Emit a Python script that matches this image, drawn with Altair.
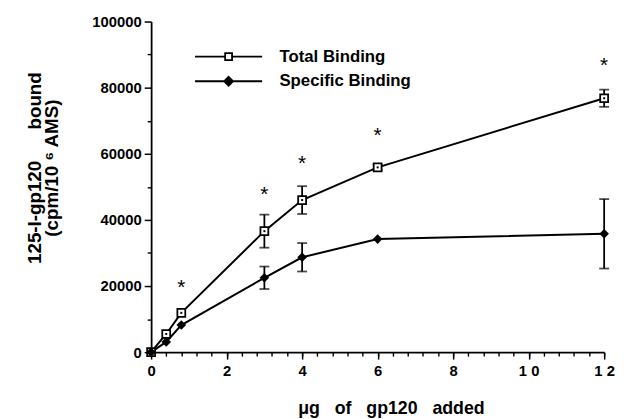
import altair as alt
import pandas as pd

# ---- data ----
dose = [0, 0.4, 0.8, 3, 4, 6, 12]
total = [0, 5500, 11900, 36600, 46000, 55900, 76800]
total_err = [0, 0, 0, 5000, 4200, 800, 2600]
specific = [0, 3100, 8200, 22500, 28700, 34200, 35800]
specific_err = [0, 0, 0, 3400, 4300, 0, 10500]
star_dose = [0.8, 3, 4, 6, 12]
star_y = [19500, 47500, 57000, 65500, 86500]
series_names = ["Total Binding", "Specific Binding"]
x_major = [0, 2, 4, 6, 8, 10, 12]
x_minor = [round(i * 0.4, 2) for i in range(31)]
y_major = [0, 20000, 40000, 60000, 80000, 100000]
y_minor = [10000, 30000, 50000, 70000, 90000]

rows = []
for d, v, e in zip(dose, total, total_err):
    rows.append({"series": series_names[0], "dose": d, "value": v, "err": e})
for d, v, e in zip(dose, specific, specific_err):
    rows.append({"series": series_names[1], "dose": d, "value": v, "err": e})
df = pd.DataFrame(rows)
df["lo"] = df["value"] - df["err"]
df["hi"] = df["value"] + df["err"]
stars = pd.DataFrame({"dose": star_dose, "y": star_y})

FONT = "Liberation Sans"
xs = alt.Scale(domain=[0, 12], nice=False, zero=False)
ys = alt.Scale(domain=[0, 100000], nice=False, zero=False)

x_axis = alt.Axis(
    values=x_major, orient="bottom", grid=False,
    labelExpr="datum.value == 10 ? '1 0' : datum.value == 12 ? '1 2' : datum.label",
    tickSize=7, tickWidth=1.5, tickColor="black", domainColor="black", domainWidth=1.8,
    labelFont=FONT, labelFontSize=15, labelFontWeight="bold", labelColor="black",
    labelPadding=5, labelFlush=False,
    title="\u03bcg\u00a0\u00a0 of\u00a0\u00a0 gp120\u00a0\u00a0 added", titleFont=FONT, titleFontSize=18,
    titleFontWeight="bold", titleColor="black",
    titleX=243, titleY=57, titleBaseline="middle", titleAlign="center",
)
y_axis = alt.Axis(
    values=y_major, orient="left", grid=False, format="d",
    tickSize=7, tickWidth=1.5, tickColor="black", domainColor="black", domainWidth=1.8,
    labelFont=FONT, labelFontSize=15, labelFontWeight="bold", labelColor="black",
    labelPadding=3, labelFlush=False,
    title=["125-I-gp120\u00a0\u00a0\u00a0\u00a0\u00a0 bound", "(cpm/10 \u2076 AMS)"],
    titleFont=FONT, titleFontSize=19, titleFontWeight="bold", titleColor="black",
    titleX=-127, titleY=148, titleBaseline="top", titleAlign="center", titleLineHeight=17,
)

base = alt.Chart(df)
X = alt.X("dose:Q", scale=xs, axis=x_axis)
Y = alt.Y("value:Q", scale=ys, axis=y_axis)

lines = base.mark_line(color="black", strokeWidth=2).encode(x=X, y=Y, detail="series:N")

eb = base.transform_filter("datum.err > 0")
err_rule = eb.mark_rule(color="black", strokeWidth=1.8).encode(
    x=alt.X("dose:Q", scale=xs), y=alt.Y("lo:Q", scale=ys), y2="hi:Q")
err_lo = eb.mark_tick(color="black", orient="horizontal", size=10, thickness=1.8).encode(
    x=alt.X("dose:Q", scale=xs), y=alt.Y("lo:Q", scale=ys))
err_hi = eb.mark_tick(color="black", orient="horizontal", size=10, thickness=1.8).encode(
    x=alt.X("dose:Q", scale=xs), y=alt.Y("hi:Q", scale=ys))

tot = base.transform_filter(alt.datum.series == series_names[0])
spec = base.transform_filter(alt.datum.series == series_names[1])
tot_pts = tot.mark_point(shape="square", filled=True, fill="white", stroke="black",
                         strokeWidth=1.8, size=64, opacity=1).encode(
    x=alt.X("dose:Q", scale=xs), y=alt.Y("value:Q", scale=ys))
tot_dot = tot.mark_point(shape="square", filled=True, color="black", size=4, opacity=1).encode(
    x=alt.X("dose:Q", scale=xs), y=alt.Y("value:Q", scale=ys))
spec_pts = spec.mark_point(shape="diamond", filled=True, color="black", size=95, opacity=1).encode(
    x=alt.X("dose:Q", scale=xs), y=alt.Y("value:Q", scale=ys))

star_marks = alt.Chart(stars).mark_text(text="*", font=FONT, fontSize=21, color="black",
                                        baseline="middle").encode(
    x=alt.X("dose:Q", scale=xs), y=alt.Y("y:Q", scale=ys))

legend_paths = [
    "M-6.8,0H-0.7M0.7,0H6.8M-0.7,-0.7H0.7V0.7H-0.7Z",
    "M-6.8,0H6.8M0,-0.9L0.9,0L0,0.9L-0.9,0Z",
]


def make_legend():
    return alt.Legend(title=None, orient="none", legendX=70, legendY=27,
                      labelFont=FONT, labelFontSize=17, labelFontWeight="bold",
                      labelColor="black", labelOffset=43, rowPadding=7,
                      symbolStrokeWidth=1.8, padding=0)


legend_layer = base.transform_filter("false").mark_point(
    filled=True, strokeWidth=1.8, size=36, opacity=1).encode(
    shape=alt.Shape("series:N", scale=alt.Scale(domain=series_names, range=legend_paths),
                    legend=make_legend()),
    fill=alt.Fill("series:N", scale=alt.Scale(domain=series_names, range=["white", "black"]),
                  legend=make_legend()),
    stroke=alt.Stroke("series:N", scale=alt.Scale(domain=series_names, range=["black", "black"]),
                      legend=make_legend()),
)

main = alt.layer(lines, err_rule, err_lo, err_hi, tot_pts, tot_dot, spec_pts, star_marks, legend_layer)

minor = alt.Chart(df).mark_point(opacity=0).encode(
    x=alt.X("dose:Q", scale=xs, axis=alt.Axis(values=x_minor, orient="bottom", labels=False,
                                               domain=False, grid=False, tickSize=4, tickWidth=1.4,
                                               tickColor="black", title=None)),
    y=alt.Y("value:Q", scale=ys, axis=alt.Axis(values=y_minor, orient="left", labels=False,
                                                domain=False, grid=False, tickSize=4, tickWidth=1.4,
                                                tickColor="black", title=None)),
)

chart = alt.layer(main, minor).resolve_scale(x="independent", y="independent").properties(
    width=459, height=335,
    autosize=alt.AutoSizeParams(type="none"),
    padding={"left": 145, "top": 11, "right": 12, "bottom": 65},
    background="white",
).configure_view(stroke=None)

chart.save("out.html", embed_options={"renderer": "svg", "actions": False})
